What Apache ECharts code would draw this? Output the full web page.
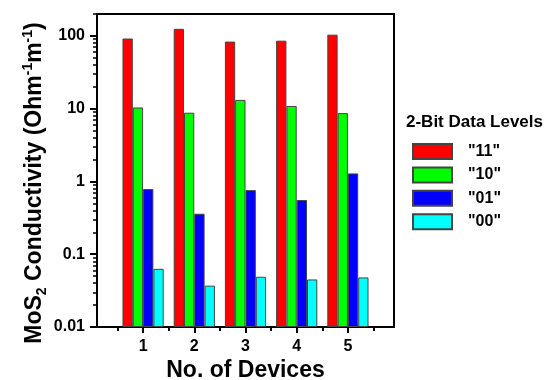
<!DOCTYPE html>
<html>
<head>
<meta charset="utf-8">
<script src="https://cdn.jsdelivr.net/npm/echarts@6/dist/echarts.min.js"></script>
<style>html,body{margin:0;padding:0;background:#fff}#c{width:545px;height:380px}</style>
</head>
<body>
<div id="c"></div>
<script>
const devices = [1, 2, 3, 4, 5];
const level11 = [92, 125, 83.5, 86, 104];
const level10 = [10.4, 8.8, 13.2, 10.9, 8.7];
const level01 = [0.785, 0.36, 0.76, 0.555, 1.29];
const level00 = [0.063, 0.037, 0.049, 0.045, 0.048];
const seriesNames = ['"11"', '"10"', '"01"', '"00"'];
const yTickLabels = [0.01, 0.1, 1, 10, 100];
const xTickLabels = [1, 2, 3, 4, 5];
const xMinorTicks = [0.5, 1.5, 2.5, 3.5, 4.5, 5.5];

const FONT = 'Liberation Sans, Arial, sans-serif';
const colors = ['#ff0000', '#00ff00', '#0000ff', '#00ffff'];
const allSeries = [level11, level10, level01, level00];

const yMinor = [];
for (let d = -2; d <= 2; d++) {
  for (let m = 2; m <= 9; m++) {
    const v = m * Math.pow(10, d);
    if (v <= 200) yMinor.push(v);
  }
}

const chart = echarts.init(document.getElementById('c'), null, {renderer: 'canvas'});
const axisLine = {show: true, onZero: false, lineStyle: {color: '#000', width: 2}};
chart.setOption({
  animation: false,
  title: {
    text: '2-Bit Data Levels', left: 406, top: 114, padding: 0,
    textStyle: {fontFamily: FONT, fontWeight: 'bold', fontSize: 17, color: '#000'}
  },
  legend: {
    orient: 'vertical', left: 407, top: 138, itemWidth: 39, itemHeight: 15, itemGap: 6.4,
    icon: 'rect', data: seriesNames,
    textStyle: {fontFamily: FONT, fontWeight: 'bold', fontSize: 16, color: '#000', lineHeight: 15, padding: [0, 0, 0, 11]}
  },
  grid: {left: 97, right: 151, top: 14, bottom: 53, outerBoundsMode: 'none', containLabel: false,
    show: true, borderColor: '#000', borderWidth: 2, backgroundColor: 'transparent'},
  xAxis: [{
    type: 'value', min: 0.1, max: 5.9, position: 'bottom',
    axisLine: axisLine,
    axisTick: {show: true, length: 6, customValues: xTickLabels, lineStyle: {color: '#000', width: 2}},
    axisLabel: {customValues: xTickLabels, margin: 12, fontFamily: FONT, fontWeight: 'bold', fontSize: 16, color: '#000'},
    splitLine: {show: false},
    name: 'No. of Devices', nameLocation: 'middle', nameGap: 32, nameMoveOverlap: false,
    nameTextStyle: {fontFamily: FONT, fontWeight: 'bold', fontSize: 23, color: '#000'}
  }, {
    type: 'value', min: 0.1, max: 5.9, position: 'bottom',
    axisLine: {show: false},
    axisTick: {show: true, length: 4, customValues: xMinorTicks, lineStyle: {color: '#000', width: 2}},
    axisLabel: {show: false}, splitLine: {show: false}
  }],
  yAxis: [{
    type: 'log', min: 0.01, max: 200, position: 'left', startValue: 0.01,
    axisLine: axisLine,
    axisTick: {show: true, length: 7, customValues: yTickLabels, lineStyle: {color: '#000', width: 2}},
    axisLabel: {customValues: yTickLabels, margin: 12, fontFamily: FONT, fontWeight: 'bold', fontSize: 16, color: '#000',
      formatter: v => String(v)},
    splitLine: {show: false}, minorSplitLine: {show: false},
    name: '{a|MoS}{sub|2}{a| Conductivity (Ohm}{sup|-1}{a|m}{sup|-1}{a|)}',
    nameLocation: 'middle', nameGap: 48, nameRotate: 90, nameMoveOverlap: false,
    nameTextStyle: {
      padding: [0, 25, 0, 0],
      rich: {
        a: {fontFamily: FONT, fontWeight: 'bold', fontSize: 23, color: '#000', lineHeight: 28},
        sub: {fontFamily: FONT, fontWeight: 'bold', fontSize: 14, color: '#000', lineHeight: 28, verticalAlign: 'bottom', padding: [10, 0, 0, 0]},
        sup: {fontFamily: FONT, fontWeight: 'bold', fontSize: 14, color: '#000', lineHeight: 28, verticalAlign: 'top', padding: [0, 0, 10, 0]}
      }
    }
  }, {
    type: 'log', min: 0.01, max: 200, position: 'left',
    axisLine: {show: false},
    axisTick: {show: true, length: 4, customValues: yMinor, lineStyle: {color: '#000', width: 1.5}},
    axisLabel: {show: false}, splitLine: {show: false}
  }],
  series: allSeries.map((vals, i) => ({
    type: 'bar', name: seriesNames[i], xAxisIndex: 0, yAxisIndex: 0,
    barWidth: 10.3, barGap: '0%',
    itemStyle: {color: colors[i], borderColor: '#444', borderWidth: 1},
    data: devices.map((d, j) => [d, vals[j]])
  }))
});
</script>
</body>
</html>
